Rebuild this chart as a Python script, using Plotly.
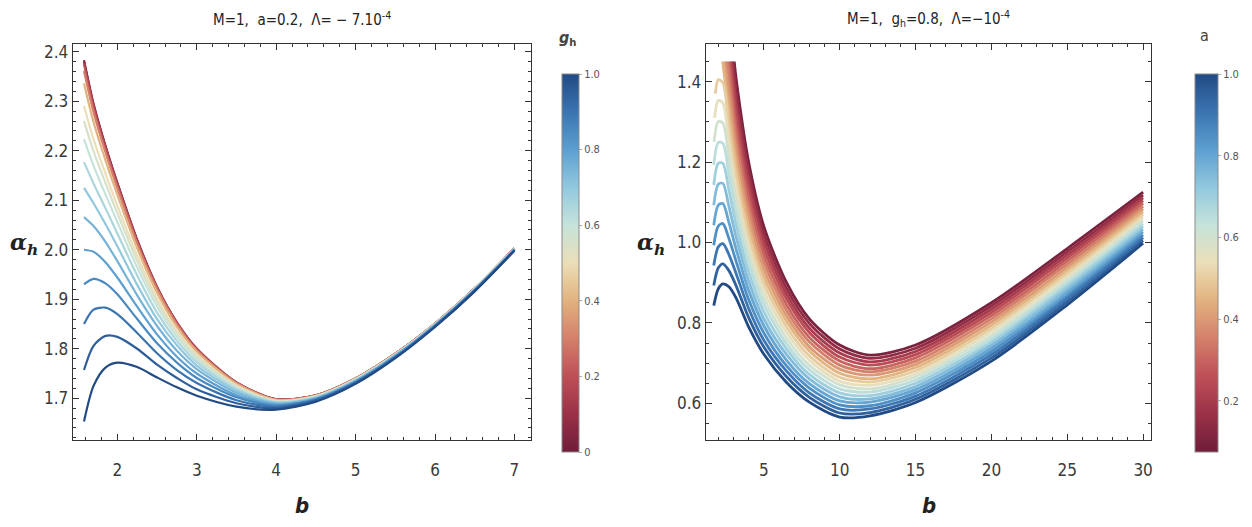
import plotly.graph_objects as go
from plotly.colors import sample_colorscale

# ---------------- left panel: alpha_h(b) for several g_h ----------------
g_values = [0.0, 0.1, 0.2, 0.3, 0.4, 0.5, 0.55, 0.6, 0.65, 0.7, 0.75, 0.8, 0.85, 0.9, 0.95, 1.0]
b_left = [1.58, 1.7, 1.85, 2.0, 2.25, 2.5, 2.75, 3.0, 3.5, 4.0, 4.5, 5.0, 5.5, 6.0, 6.5, 7.0]
alpha_left = [
    [2.383, 2.295, 2.210, 2.135, 2.020, 1.925, 1.853, 1.800, 1.732, 1.698, 1.706, 1.740, 1.790, 1.851, 1.922, 2.003],
    [2.381, 2.293, 2.209, 2.134, 2.019, 1.924, 1.853, 1.800, 1.732, 1.698, 1.706, 1.740, 1.790, 1.851, 1.922, 2.003],
    [2.375, 2.289, 2.205, 2.131, 2.017, 1.923, 1.852, 1.799, 1.731, 1.698, 1.706, 1.740, 1.790, 1.851, 1.922, 2.003],
    [2.361, 2.278, 2.197, 2.124, 2.012, 1.920, 1.849, 1.797, 1.731, 1.697, 1.706, 1.740, 1.790, 1.851, 1.922, 2.003],
    [2.336, 2.258, 2.181, 2.111, 2.003, 1.913, 1.844, 1.794, 1.729, 1.697, 1.705, 1.739, 1.789, 1.851, 1.922, 2.003],
    [2.291, 2.223, 2.154, 2.089, 1.988, 1.902, 1.836, 1.788, 1.726, 1.695, 1.704, 1.739, 1.789, 1.850, 1.921, 2.002],
    [2.260, 2.199, 2.135, 2.074, 1.977, 1.894, 1.831, 1.784, 1.724, 1.694, 1.704, 1.738, 1.788, 1.850, 1.921, 2.002],
    [2.223, 2.170, 2.112, 2.056, 1.964, 1.885, 1.824, 1.779, 1.721, 1.693, 1.703, 1.738, 1.788, 1.849, 1.921, 2.002],
    [2.177, 2.134, 2.084, 2.033, 1.948, 1.873, 1.816, 1.773, 1.718, 1.692, 1.702, 1.737, 1.787, 1.849, 1.920, 2.002],
    [2.125, 2.094, 2.052, 2.007, 1.929, 1.860, 1.807, 1.766, 1.715, 1.691, 1.701, 1.736, 1.787, 1.849, 1.920, 2.001],
    [2.066, 2.048, 2.016, 1.977, 1.908, 1.846, 1.796, 1.759, 1.711, 1.689, 1.700, 1.735, 1.786, 1.848, 1.919, 2.001],
    [2.000, 1.996, 1.975, 1.944, 1.885, 1.829, 1.784, 1.750, 1.706, 1.687, 1.699, 1.734, 1.785, 1.847, 1.919, 2.000],
    [1.930, 1.941, 1.932, 1.910, 1.860, 1.811, 1.772, 1.741, 1.702, 1.685, 1.698, 1.733, 1.784, 1.847, 1.918, 2.000],
    [1.850, 1.879, 1.883, 1.870, 1.832, 1.791, 1.757, 1.731, 1.696, 1.683, 1.697, 1.732, 1.783, 1.846, 1.918, 1.999],
    [1.757, 1.806, 1.826, 1.824, 1.800, 1.768, 1.741, 1.718, 1.690, 1.680, 1.695, 1.731, 1.782, 1.845, 1.917, 1.999],
    [1.653, 1.725, 1.762, 1.772, 1.763, 1.742, 1.722, 1.705, 1.683, 1.677, 1.693, 1.729, 1.781, 1.844, 1.916, 1.998],
]

# ---------------- right panel: alpha_h(b) for several a ----------------
a_values = [0.1, 0.15, 0.2, 0.25, 0.3, 0.35, 0.4, 0.45, 0.5, 0.55, 0.6,
            0.65, 0.7, 0.75, 0.8, 0.85, 0.9, 0.95, 1.0]
# first point of every curve (curves entering from the top are cut at 1.45)
b_start_right = [3.05, 2.97, 2.88, 2.79, 2.70, 2.57, 2.43, 2.28, 1.80, 1.75, 1.72,
                 1.7, 1.7, 1.7, 1.7, 1.7, 1.7, 1.7, 1.7]
alpha_start_right = [1.45, 1.45, 1.45, 1.45, 1.45, 1.45, 1.45, 1.45, 1.37, 1.31, 1.25,
                     1.193, 1.143, 1.093, 1.043, 0.993, 0.943, 0.893, 0.843]
b_right = [2.0, 2.3, 2.7, 3.2, 4.0, 5.0, 6.5, 8.0, 10.0, 12.0, 15.0, 20.0, 25.0, 30.0]
alpha_right = [
    [None, None, None, 1.400, 1.200, 1.040, 0.900, 0.810, 0.745, 0.720, 0.745, 0.850, 0.985, 1.125],
    [None, None, None, 1.370, 1.178, 1.022, 0.886, 0.799, 0.735, 0.712, 0.737, 0.842, 0.977, 1.118],
    [None, None, None, 1.340, 1.155, 1.005, 0.872, 0.787, 0.725, 0.703, 0.729, 0.834, 0.969, 1.111],
    [None, None, None, 1.310, 1.132, 0.987, 0.859, 0.776, 0.715, 0.695, 0.721, 0.826, 0.962, 1.104],
    [None, None, None, 1.280, 1.109, 0.969, 0.845, 0.764, 0.705, 0.686, 0.713, 0.818, 0.954, 1.097],
    [None, None, 1.410, 1.250, 1.086, 0.952, 0.831, 0.753, 0.695, 0.678, 0.705, 0.810, 0.946, 1.090],
    [None, None, 1.370, 1.220, 1.064, 0.934, 0.817, 0.741, 0.685, 0.670, 0.697, 0.802, 0.938, 1.083],
    [None, None, 1.330, 1.190, 1.041, 0.916, 0.804, 0.730, 0.675, 0.661, 0.689, 0.794, 0.931, 1.076],
    [1.405, 1.397, 1.290, 1.160, 1.018, 0.899, 0.790, 0.718, 0.665, 0.653, 0.681, 0.786, 0.923, 1.069],
    [1.353, 1.347, 1.250, 1.130, 0.995, 0.881, 0.776, 0.707, 0.655, 0.645, 0.673, 0.778, 0.915, 1.062],
    [1.301, 1.297, 1.210, 1.100, 0.972, 0.863, 0.762, 0.695, 0.646, 0.636, 0.666, 0.769, 0.907, 1.054],
    [1.249, 1.247, 1.170, 1.070, 0.950, 0.846, 0.748, 0.684, 0.636, 0.628, 0.658, 0.761, 0.899, 1.047],
    [1.197, 1.197, 1.130, 1.040, 0.927, 0.828, 0.735, 0.672, 0.626, 0.619, 0.650, 0.753, 0.892, 1.040],
    [1.145, 1.147, 1.090, 1.010, 0.904, 0.810, 0.721, 0.661, 0.616, 0.611, 0.642, 0.745, 0.884, 1.033],
    [1.093, 1.097, 1.050, 0.980, 0.881, 0.793, 0.707, 0.649, 0.606, 0.603, 0.634, 0.737, 0.876, 1.026],
    [1.041, 1.047, 1.010, 0.950, 0.858, 0.775, 0.693, 0.638, 0.596, 0.594, 0.626, 0.729, 0.868, 1.019],
    [0.989, 0.997, 0.970, 0.920, 0.836, 0.757, 0.680, 0.626, 0.586, 0.586, 0.618, 0.721, 0.861, 1.012],
    [0.937, 0.947, 0.930, 0.890, 0.813, 0.740, 0.666, 0.615, 0.576, 0.577, 0.610, 0.713, 0.853, 1.005],
    [0.885, 0.897, 0.890, 0.860, 0.790, 0.722, 0.652, 0.603, 0.566, 0.569, 0.602, 0.705, 0.845, 0.998],
]

left_cbar_ticks = [0, 0.2, 0.4, 0.6, 0.8, 1.0]
left_cbar_text = ["0", "0.2", "0.4", "0.6", "0.8", "1.0"]
right_cbar_ticks = [0.2, 0.4, 0.6, 0.8, 1.0]
right_cbar_text = ["0.2", "0.4", "0.6", "0.8", "1.0"]

# red -> cream -> blue tones
tones = [
    [0.0, "#6f1d3a"], [0.1, "#9a3147"], [0.2, "#bd4f57"], [0.3, "#d4806b"],
    [0.4, "#e2b27f"], [0.5, "#ebdeb8"], [0.6, "#c6e3da"], [0.7, "#92c8de"],
    [0.8, "#5c9fd0"], [0.9, "#3a74b0"], [1.0, "#224a84"],
]

W, H = 1252, 527
FONT = "Liberation Sans Narrow, DejaVu Sans Condensed, Arial Narrow, sans-serif"
TICK = "#3a3a3a"

fig = go.Figure()

def px_x(p):
    return p / W

def px_y(p):
    return 1 - p / H

# left curves, g_h = 0 drawn first so the blue ones sit on top
for g, ys in zip(g_values, alpha_left):
    col = sample_colorscale(tones, [g])[0]
    fig.add_trace(go.Scatter(x=b_left, y=ys, mode="lines", xaxis="x", yaxis="y",
                             line=dict(color=col, width=2.2, shape="spline", smoothing=0.8),
                             showlegend=False, hoverinfo="skip"))

# right curves
a_min, a_max = 0.075, 1.0
for a, b0, y0, ys in zip(a_values, b_start_right, alpha_start_right, alpha_right):
    xs = [b0] + [b for b, v in zip(b_right, ys) if v is not None and b > b0]
    vs = [y0] + [v for b, v in zip(b_right, ys) if v is not None and b > b0]
    col = sample_colorscale(tones, [(a - a_min) / (a_max - a_min)])[0]
    fig.add_trace(go.Scatter(x=xs, y=vs, mode="lines", xaxis="x2", yaxis="y2",
                             line=dict(color=col, width=2.8, shape="spline", smoothing=0.8),
                             showlegend=False, hoverinfo="skip"))

# colour legends
def cbar_trace(xpos, thick, cmin, cmax, tv, tt, ax, ay):
    return go.Scatter(
        x=[None], y=[None], mode="markers", xaxis=ax, yaxis=ay, showlegend=False,
        hoverinfo="skip",
        marker=dict(color=[cmin, cmax], cmin=cmin, cmax=cmax, colorscale=tones,
                    showscale=True,
                    colorbar=dict(x=xpos, xanchor="left", y=px_y(262), yanchor="middle",
                                  len=400 / H, lenmode="fraction", thickness=thick,
                                  outlinewidth=1, outlinecolor="#8a8a8a",
                                  tickvals=tv, ticktext=tt, ticks="outside", ticklen=3,
                                  tickcolor="#aaaaaa",
                                  tickfont=dict(family=FONT, size=11, color="#555555"))))

fig.add_trace(cbar_trace(px_x(553), 17, 0, 1, left_cbar_ticks, left_cbar_text, "x", "y"))
fig.add_trace(cbar_trace(px_x(1187), 23, a_min, a_max, right_cbar_ticks, right_cbar_text, "x2", "y2"))

axis_common = dict(showline=True, linecolor="#333333", linewidth=1.3, mirror="allticks",
                   ticks="inside", ticklen=6, tickcolor="#333333", showgrid=False,
                   zeroline=False, tickfont=dict(family=FONT, size=17, color=TICK))

fig.update_layout(
    width=W, height=H, margin=dict(l=0, r=0, t=0, b=0),
    paper_bgcolor="white", plot_bgcolor="white",
    xaxis=dict(domain=[px_x(73), px_x(532)], range=[1.44, 7.21], anchor="y",
               tickvals=[2, 3, 4, 5, 6, 7],
               minor=dict(dtick=0.2, ticks="inside", ticklen=3, tickcolor="#333333"),
               ticklabelstandoff=14, **axis_common),
    yaxis=dict(domain=[px_y(440), px_y(42)], range=[1.615, 2.416], anchor="x",
               tickvals=[1.7, 1.8, 1.9, 2.0, 2.1, 2.2, 2.3, 2.4], tickformat=".1f",
               minor=dict(dtick=0.02, ticks="inside", ticklen=3, tickcolor="#333333"),
               **axis_common),
    xaxis2=dict(domain=[px_x(707), px_x(1153)], range=[1.18, 30.53], anchor="y2",
                tickvals=[5, 10, 15, 20, 25, 30],
                minor=dict(dtick=1, ticks="inside", ticklen=3, tickcolor="#333333"),
                ticklabelstandoff=14, **axis_common),
    yaxis2=dict(domain=[px_y(440), px_y(42)], range=[0.508, 1.494], anchor="x2",
                tickvals=[0.6, 0.8, 1.0, 1.2, 1.4], tickformat=".1f",
                minor=dict(dtick=0.05, ticks="inside", ticklen=3, tickcolor="#333333"),
                **axis_common),
)

def note(x, y, text, size, color="#222222", family=FONT):
    fig.add_annotation(x=px_x(x), y=px_y(y), xref="paper", yref="paper", text=text,
                       showarrow=False, xanchor="center", yanchor="middle",
                       font=dict(family=family, size=size, color=color))

note(302, 17, "M=1,  a=0.2,  Λ= − 7.10<sup>-4</sup>", 15)
note(930, 17, "M=1,  g<sub>h</sub>=0.8,  Λ=−10<sup>-4</sup>", 15)
note(568, 37, "<b><i>g</i></b><sub><b>h</b></sub>", 16, "#444444")
note(1206, 34, "a", 16, "#444444")
note(24, 243, "<b><i>α</i></b><sub><b><i>h</i></b></sub>", 22, "#222222", "DejaVu Serif, serif")
note(652, 243, "<b><i>α</i></b><sub><b><i>h</i></b></sub>", 22, "#222222", "DejaVu Serif, serif")
note(302, 505, "<b><i>b</i></b>", 22, "#222222")
note(930, 505, "<b><i>b</i></b>", 22, "#222222")

fig.write_html("out.html")
